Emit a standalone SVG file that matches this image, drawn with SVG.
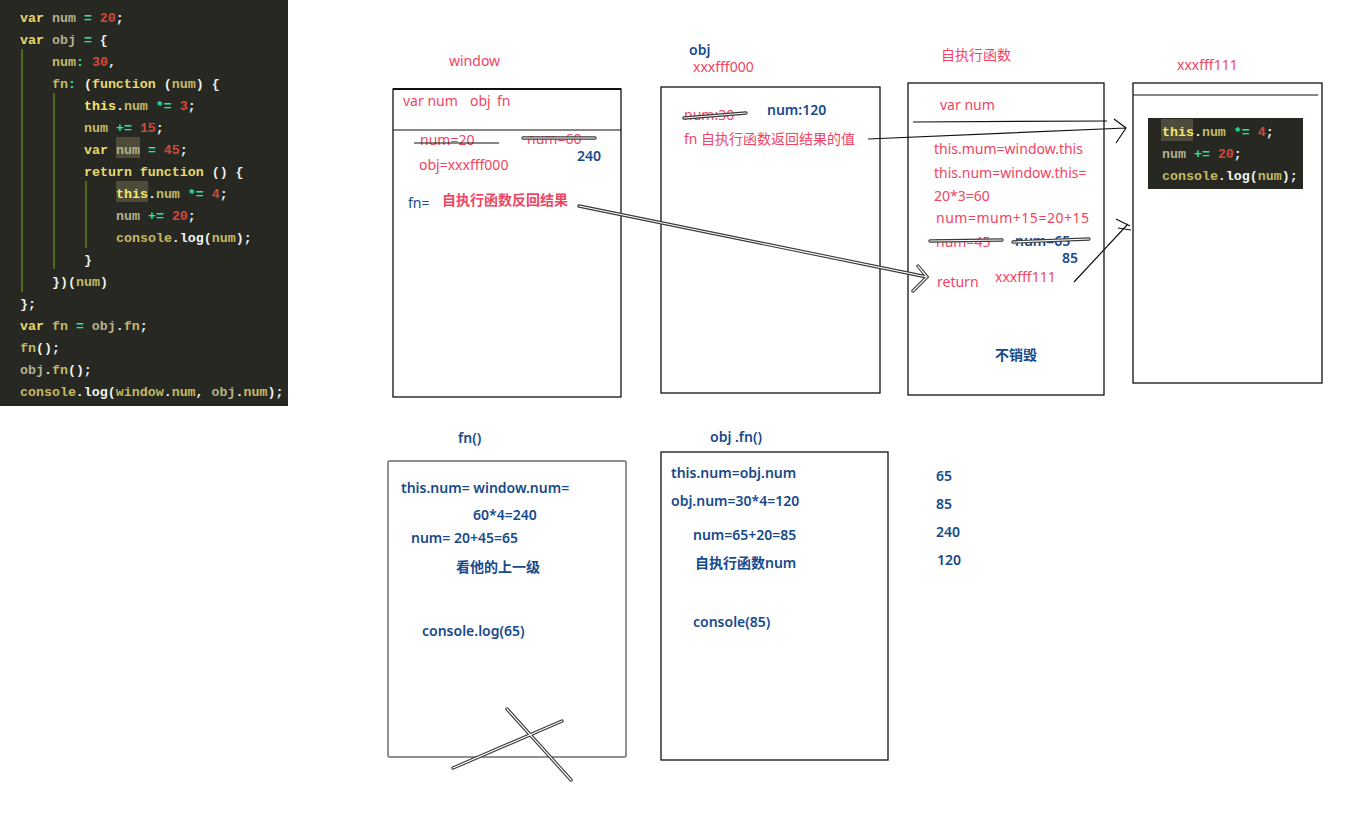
<svg xmlns="http://www.w3.org/2000/svg" width="1359" height="816" viewBox="0 0 1359 816">
<style>
.code{font-family:"Liberation Mono",monospace;font-size:13.3px;font-weight:bold;fill:#f0f0ec}
.k{fill:#e8d870}.t{fill:#f5e66e}.v{fill:#b4b08c}.p{fill:#c6b862}.o{fill:#22e6a6}.n{fill:#d2493a}.w{fill:#f4f4f0}
.r{font-family:"Noto Sans","Noto Sans CJK SC",sans-serif;font-size:14px;fill:#ef4562}
.rb{font-family:"Noto Sans","Noto Sans CJK SC",sans-serif;font-size:14px;fill:#ef4562;font-weight:bold}
.b{font-family:"Noto Sans","Noto Sans CJK SC",sans-serif;font-size:14px;fill:#174a8b;font-weight:600}
.bn{font-family:"Noto Sans","Noto Sans CJK SC",sans-serif;font-size:14px;fill:#174a8b}
.box{fill:#fff;stroke:#111;stroke-width:1.3}
.ln{fill:none;stroke:#111;stroke-width:1.2}
.d1{fill:none;stroke:#3a3a3a;stroke-width:3.4;stroke-linecap:round}
.d2{fill:none;stroke:#fff;stroke-width:1.2;stroke-linecap:round}
.guide{stroke:#6a8c12;stroke-width:1.3}
.hl{fill:#4e4c38}
</style>
<rect width="1359" height="816" fill="#fff"/>

<g id="code-panel">
<rect x="0" y="0" width="288" height="406" fill="#272822"/>
<line class="guide" x1="22" y1="49" x2="22" y2="292"/>
<line class="guide" x1="54" y1="93" x2="54" y2="269"/>
<line class="guide" x1="86" y1="181" x2="86" y2="248"/>
<rect class="hl" x="116" y="137" width="24" height="21"/>
<rect class="hl" x="116" y="181" width="32" height="21"/>
<g class="code" xml:space="preserve">
<text x="20" y="22"><tspan class="k">var</tspan> <tspan class="v">num</tspan> <tspan class="o">=</tspan> <tspan class="n">20</tspan>;</text>
<text x="20" y="44"><tspan class="k">var</tspan> <tspan class="v">obj</tspan> <tspan class="o">=</tspan> {</text>
<text x="52" y="66"><tspan class="p">num</tspan><tspan class="o">:</tspan> <tspan class="n">30</tspan>,</text>
<text x="52" y="88"><tspan class="p">fn</tspan><tspan class="o">:</tspan> (<tspan class="k">function</tspan> (<tspan class="p">num</tspan>) {</text>
<text x="84" y="110"><tspan class="t">this</tspan>.<tspan class="p">num</tspan> <tspan class="o">*=</tspan> <tspan class="n">3</tspan>;</text>
<text x="84" y="132"><tspan class="p">num</tspan> <tspan class="o">+=</tspan> <tspan class="n">15</tspan>;</text>
<text x="84" y="154"><tspan class="k">var</tspan> <tspan class="v">num</tspan> <tspan class="o">=</tspan> <tspan class="n">45</tspan>;</text>
<text x="84" y="176"><tspan class="k">return function</tspan> () {</text>
<text x="116" y="198"><tspan class="t">this</tspan>.<tspan class="p">num</tspan> <tspan class="o">*=</tspan> <tspan class="n">4</tspan>;</text>
<text x="116" y="220"><tspan class="v">num</tspan> <tspan class="o">+=</tspan> <tspan class="n">20</tspan>;</text>
<text x="116" y="242"><tspan class="p">console</tspan>.<tspan class="w">log</tspan>(<tspan class="p">num</tspan>);</text>
<text x="84" y="264">}</text>
<text x="52" y="286">})(<tspan class="p">num</tspan>)</text>
<text x="20" y="308">};</text>
<text x="20" y="330"><tspan class="k">var</tspan> <tspan class="p">fn</tspan> <tspan class="o">=</tspan> <tspan class="v">obj</tspan>.<tspan class="p">fn</tspan>;</text>
<text x="20" y="352"><tspan class="p">fn</tspan>();</text>
<text x="20" y="374"><tspan class="v">obj</tspan>.<tspan class="p">fn</tspan>();</text>
<text x="20" y="396"><tspan class="p">console</tspan>.<tspan class="w">log</tspan>(<tspan class="p">window</tspan>.<tspan class="p">num</tspan>, <tspan class="v">obj</tspan>.<tspan class="p">num</tspan>);</text>
</g>
</g>

<g id="window">
<text class="r" x="449" y="66">window</text>
<rect class="box" x="393" y="89" width="228" height="308"/>
<line x1="393" y1="89" x2="621" y2="89" stroke="#111" stroke-width="2"/>
<line class="ln" x1="393" y1="130" x2="621" y2="130"/>
<text class="r" x="403" y="106">var num<tspan x="470">obj</tspan><tspan x="497">fn</tspan></text>
<text class="r" x="420" y="145">num=20</text>
<line class="ln" x1="414" y1="143" x2="499" y2="143"/>
<text class="r" x="527" y="144">num=60</text>
<path class="d1" d="M523 138 L595 138"/><path class="d2" d="M523 138 L595 138"/>
<text class="b" x="577" y="161">240</text>
<text class="r" x="419" y="170">obj=xxxfff000</text>
<text class="bn" x="408" y="208">fn=</text>
<text class="rb" x="442" y="205">自执行函数反回结果</text>
</g>

<g id="obj">
<text class="b" x="689" y="55">obj</text>
<text class="r" x="693" y="72">xxxfff000</text>
<rect class="box" x="661" y="87" width="219" height="306"/>
<text class="r" x="684" y="120">num:30</text>
<path class="d1" d="M684 118 L746 113"/><path class="d2" d="M684 118 L746 113"/>
<text class="b" x="767" y="115">num:120</text>
<text class="r" x="684" y="144">fn 自执行函数返回结果的值</text>
</g>

<g id="self-exec">
<text class="r" x="941" y="60">自执行函数</text>
<rect class="box" x="908" y="83" width="196" height="312"/>
<text class="r" x="940" y="110">var num</text>
<text class="r" x="934" y="154">this.mum=window.this</text>
<text class="r" x="934" y="178">this.num=window.this=</text>
<text class="r" x="934" y="201">20*3=60</text>
<text class="r" x="936" y="223" textLength="153">num=mum+15=20+15</text>
<text class="r" x="936" y="247">num=45</text>
<path class="d1" d="M930 241 L1002 240"/><path class="d2" d="M930 241 L1002 240"/>
<text class="b" x="1015" y="246">num=65</text>
<path class="d1" d="M1013 242 L1089 239"/><path class="d2" d="M1013 242 L1089 239"/>
<text class="b" x="1062" y="263">85</text>
<text class="r" x="937" y="287">return</text>
<text class="r" x="995" y="282">xxxfff111</text>
<text class="b" x="995" y="360">不销毁</text>
</g>

<g id="xxxfff111">
<text class="r" x="1177" y="70">xxxfff111</text>
<rect class="box" x="1133" y="83" width="189" height="300"/>
<line class="ln" x1="1133" y1="95" x2="1318" y2="95"/>
<rect x="1148" y="118" width="155" height="71" fill="#272822"/>
<rect class="hl" x="1161" y="119" width="32" height="22"/>
<g class="code" xml:space="preserve">
<text x="1162" y="136"><tspan class="t">this</tspan>.<tspan class="p">num</tspan> <tspan class="o">*=</tspan> <tspan class="n">4</tspan>;</text>
<text x="1162" y="158"><tspan class="v">num</tspan> <tspan class="o">+=</tspan> <tspan class="n">20</tspan>;</text>
<text x="1162" y="180"><tspan class="p">console</tspan>.<tspan class="w">log</tspan>(<tspan class="p">num</tspan>);</text>
</g>
</g>

<g id="fn-call">
<text class="b" x="458" y="443">fn()</text>
<rect x="388" y="461" width="238" height="296" rx="1.5" fill="#fff" stroke="#6e6e6e" stroke-width="1.5"/>
<text class="b" x="401" y="493">this.num= window.num=</text>
<text class="b" x="473" y="520">60*4=240</text>
<text class="b" x="411" y="543">num= 20+45=65</text>
<text class="b" x="456" y="572">看他的上一级</text>
<text class="b" x="422" y="636">console.log(65)</text>
</g>

<g id="objfn-call">
<text class="b" x="710" y="442">obj .fn()</text>
<rect class="box" x="661" y="452" width="227" height="308"/>
<text class="b" x="671" y="478">this.num=obj.num</text>
<text class="b" x="671" y="506">obj.num=30*4=120</text>
<text class="b" x="693" y="540">num=65+20=85</text>
<text class="b" x="695" y="568">自执行函数num</text>
<text class="b" x="693" y="627">console(85)</text>
</g>

<g id="results">
<text class="b" x="936" y="481">65</text>
<text class="b" x="936" y="509">85</text>
<text class="b" x="936" y="537">240</text>
<text class="b" x="937" y="565">120</text>
</g>

<g id="connectors">
<line class="ln" x1="913" y1="122" x2="1107" y2="121"/>
<path class="ln" d="M868 139 L1126 128 M1114 119 L1126 128 L1116 143"/>
<path class="ln" d="M1074 282 L1128 224 M1116 219 L1130 226 M1118 228 L1131 230"/>
<path class="d1" d="M579 206 L927 277 M918 266 L927 277 L913 291"/>
<path class="d2" d="M579 206 L927 277 M918 266 L927 277 L913 291"/>
<path class="d1" d="M453 768 L562 721 M507 709 L571 780"/>
<path class="d2" d="M453 768 L562 721 M507 709 L571 780"/>
</g>
</svg>
